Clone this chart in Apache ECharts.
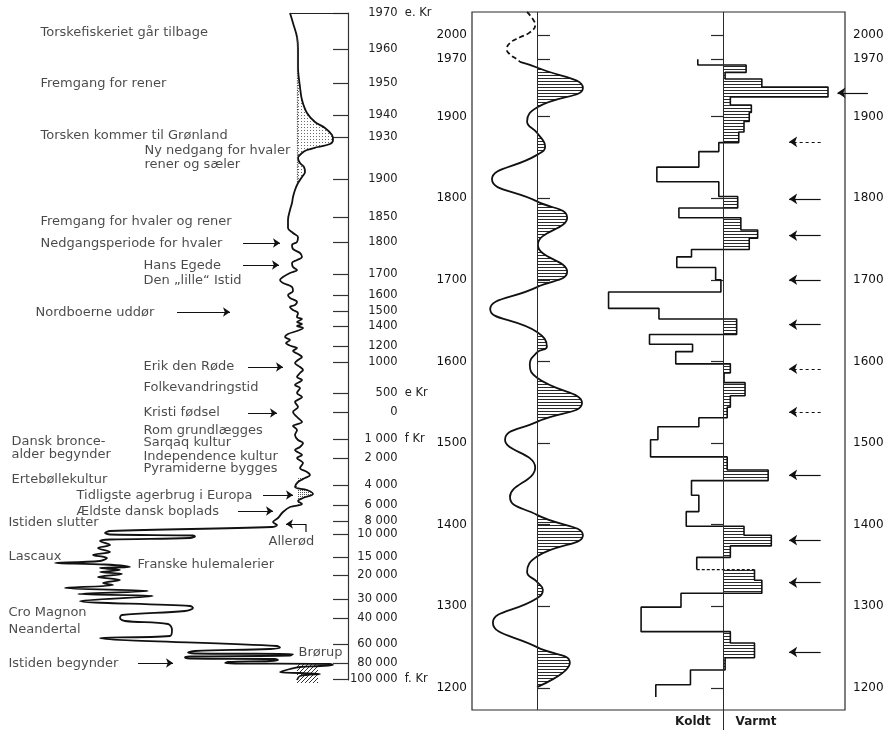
<!DOCTYPE html>
<html><head><meta charset="utf-8">
<script src="https://cdn.jsdelivr.net/npm/echarts@6/dist/echarts.min.js"></script>
<style>html,body{margin:0;padding:0;background:#fff}#c{width:887px;height:732px}</style>
</head><body><div id="c"></div>
<script>
// ================= DATA =================
// Left panel: ice-core curve (delta value, depth units); age labels at depths
const leftTickDepths = [0,54,105,153,186,249,306,343.5,391.5,423,447,469.5,499.5,523.5,570,598.5,639,667.5,708,738,762,781.5,816,843,879,907.5,946.5,975,999];
const leftTickLabels = ['1970 e. Kr','1960','1950','1940','1930','1900','1850','1800','1700','1600','1500','1400','1200','1000','500 e Kr','0','1 000 f Kr','2 000','4 000','6 000','8 000','10 000','15 000','20 000','30 000','40 000','60 000','80 000','100 000 f. Kr'];
const leftCurve = [
 [-28.9,0],[-28.75,15],[-28.55,36],[-28.5,55.5],[-28.5,81],[-28.4,111],[-28.3,130.5],[-28.05,150],[-27.65,163.5],[-27.15,172.5],[-26.8,183],[-26.75,190.5],[-26.9,196.5],[-27.5,201],[-28.05,205.5],[-28.3,210],[-28.5,217.5],[-28.4,225],[-28.2,231],[-28.15,238.5],[-28.3,246],[-28.5,255],[-28.65,265.5],[-28.75,276],[-28.8,285],[-28.9,295.5],[-29.0,310.5],[-29.0,322.5],[-28.75,330],[-28.5,336],[-28.55,343.5],[-28.8,348],[-28.75,354],[-28.4,360],[-28.3,366],[-28.55,370.5],[-28.8,375],[-28.75,381],[-28.55,385.5],[-28.9,390],[-29.25,396],[-29.4,400.5],[-29.25,405],[-28.8,411],[-28.75,417],[-29.0,423],[-28.9,427.5],[-28.55,433.5],[-28.65,438],[-28.9,441],[-28.75,445.5],[-28.5,450],[-28.55,456],[-28.3,459],[-28.55,463.5],[-28.3,466.5],[-28.55,469.5],[-28.25,472.5],[-28.55,477],[-29.0,481.5],[-29.15,486],[-28.9,490.5],[-29.1,495],[-28.85,499.5],[-28.55,502.5],[-28.75,507],[-28.5,511.5],[-28.3,516],[-28.5,520.5],[-28.65,525],[-28.4,531],[-28.25,535.5],[-28.4,540],[-28.55,546],[-28.3,550.5],[-28.65,558],[-28.4,562.5],[-28.55,570],[-28.3,576],[-28.65,583.5],[-28.5,591],[-28.75,598.5],[-28.55,606],[-28.3,613.5],[-28.75,619.5],[-28.55,625.5],[-28.65,633],[-28.5,640.5],[-28.25,645],[-28.4,651],[-28.65,655.5],[-28.3,663],[-28.55,667.5],[-28.25,675],[-28.4,682.5],[-28.05,688.5],[-27.9,693],[-28.15,697.5],[-28.5,703.5],[-28.65,711],[-28.05,715.5],[-27.75,721.5],[-28.25,727.5],[-28.5,732],[-28.3,736.5],[-28.9,741],[-29.25,748.5],[-29.5,757.5],[-29.75,763.5],[-29.55,768],[-29.8,771],[-37.9,777],[-38.15,780],[-37.9,782.25],[-33.75,783.75],[-33.65,785.25],[-33.9,787.5],[-37.9,789.75],[-38.4,792],[-37.9,798],[-38.5,802.5],[-37.9,808.5],[-38.75,813],[-38.05,817.5],[-38.4,822],[-40.65,825],[-38.15,827.25],[-36.9,831],[-38.4,832.5],[-37.4,835.5],[-38.4,838.5],[-37.3,841.5],[-38.5,846],[-37.4,850.5],[-38.25,855],[-37.75,858],[-40.15,862.5],[-36.0,867],[-39.5,871.5],[-35.75,874.5],[-39.4,882],[-33.9,889.5],[-33.75,892.5],[-34.15,897],[-37.3,903],[-37.4,907.5],[-37.15,912],[-35.0,916.5],[-34.8,925.5],[-34.9,934.5],[-38.4,937.5],[-29.55,949.5],[-29.4,951.75],[-29.9,954],[-33.65,957],[-34.0,959.25],[-33.65,960.75],[-28.75,961.5],[-28.9,963.75],[-33.9,965.25],[-34.15,966.75],[-33.9,968.25],[-29.65,969],[-29.5,970.5],[-29.9,972],[-32.0,973.5],[-32.15,975],[-31.65,975.75],[-26.9,976.5],[-26.75,978],[-27.4,979.5],[-28.4,981],[-28.9,984],[-29.4,988.5],[-28.4,990],[-27.4,991.5],[-28.4,994.5],[-28.55,1000.5]
];
// shaded depth ranges [depthFrom, depthTo, baseline delta]
const leftShadeRanges = [[36,255,-28.55],[697.5,738,-28.5]];
const leftHatchBox = [-28.55,-27.5,976.5,1005];
// annotation texts and anchors [delta, depth]
const noteTexts = ['Torskefiskeriet går tilbage','Fremgang for rener','Torsken kommer til Grønland','Ny nedgang for hvaler','rener og sæler','Fremgang for hvaler og rener','Nedgangsperiode for hvaler','Hans Egede','Den „lille“ Istid','Nordboerne uddør','Erik den Røde','Folkevandringstid','Kristi fødsel','Rom grundlægges','Sarqaq kultur','Independence kultur','Pyramiderne bygges','Dansk bronce-','alder begynder','Ertebøllekultur','Tidligste agerbrug i Europa','Ældste dansk boplads','Istiden slutter','Allerød','Lascaux','Franske hulemalerier','Cro Magnon','Neandertal','Brørup','Istiden begynder'];
const noteAnchors = [[-41.4,30],[-41.4,106.5],[-41.4,184.5],[-36.2,207],[-36.2,228],[-41.4,313.5],[-41.4,346.5],[-36.25,379.5],[-36.25,402],[-41.65,450],[-36.25,531],[-36.25,562.5],[-36.25,600],[-36.25,627],[-36.25,645],[-36.25,666],[-36.25,684],[-42.85,643.5],[-42.85,663],[-42.85,700.5],[-39.6,724.5],[-39.6,748.5],[-43.0,765],[-30.0,793.5],[-43.0,816],[-36.55,828],[-43.0,900],[-43.0,925.5],[-28.5,960],[-43.0,976.5]];
// arrows [tailDelta, headDelta, depth]
const leftArrows = [[-31.25,-29.4,345],[-31.25,-29.45,378],[-34.55,-31.9,448.5],[-31.0,-29.25,531],[-31.0,-29.55,600],[-30.25,-28.75,723],[-31.5,-29.75,747],[-36.5,-34.75,975],[-28.1,-29.1,766.5]];
const alleroedBracket = [[-28.1,766.5],[-28.1,778.5]];

// Middle panel: smoothed temperature curve (value, year); first points are the dashed forecast
const midYears  = [2028,2019,2012,2003,1997,1990,1982,1976,1970,1967,1960,1935,1911,1894,1880,1863,1853,1823,1796,1776,1743,1710,1691,1664,1636,1618,1611,1596,1580,1549,1526,1504,1470,1434,1412,1387,1361,1342,1330,1320,1310,1280,1250,1231,1201];
const midValues = [-0.22,-0.09,-0.04,-0.16,-0.38,-0.6,-0.67,-0.6,-0.44,-0.38,0,1.02,0,-0.22,0,0.18,0,-1.0,0,0.67,0.02,0.67,0,-1.04,0,0.22,0,-0.16,0,1.0,0,-0.71,-0.04,-0.6,0,1.02,0,-0.22,0,0.13,0,-0.98,0,0.73,0];
const midDashedEnd = 9;
const yearTicks = [1200,1300,1400,1500,1600,1700,1800,1900,1970,2000];

// Right panel: step histogram (bin edges in years, Koldt<0<Varmt values)
const histEdges = [1970,1963,1954,1946,1936,1924,1914,1905,1894,1881,1868,1857,1838,1820,1802,1788,1776,1761,1751,1737,1728,1715,1700,1685,1665,1652,1633,1621,1612,1597,1586,1574,1558,1544,1531,1520,1504,1483,1467,1454,1436,1416,1398,1387,1374,1360,1345,1332,1316,1299,1269,1255,1237,1222,1204,1189];
const histValues = [-2.4,2.2,0.2,3.7,10.0,0.7,2.7,2.5,2.0,1.5,-0.4,-2.3,-6.3,-0.4,1.4,-4.2,1.7,3.3,2.5,-3.0,-4.4,-0.7,-0.2,-10.9,-6.1,1.3,-7.0,-2.9,-4.5,0.7,0.1,2.1,0.7,0.4,-2.3,-6.2,-6.9,0.4,4.3,-3.0,-2.3,-3.5,2.0,4.6,0.7,-2.5,3.0,3.7,-4.0,-7.8,0.7,3.0,0.2,-3.1,-6.4];
const histDashedAfter = 45;
const arrowYears  = [1929,1869,1799,1754,1700,1645,1591,1538,1461,1381,1329,1244];
const arrowDashed = [0,1,0,0,0,0,1,1,0,0,0,0];

// ================= LAYOUT / STYLE =================
const FONT = 'DejaVu Sans';
const INK = '#1c1c1c';
const arrowHeadV = [10.9,6.3,6.3,6.3,6.3,6.3,6.3,6.3,6.3,6.3,6.3,6.3];
const arrowTailV = [13.8,9.3,9.3,9.3,9.3,9.3,9.3,9.3,9.3,9.3,9.3,9.3];

function makePattern(w,h,draw){const c=document.createElement('canvas');c.width=w;c.height=h;const g=c.getContext('2d');draw(g);return {image:c,repeat:'repeat'};}
const hatchH = makePattern(6,3,g=>{g.fillStyle='#2a2a2a';g.fillRect(0,0,6,1);});
const dots = makePattern(3,3,g=>{g.fillStyle='#6a6a6a';g.fillRect(1,1,1,1);});
const dots2 = makePattern(2,2,g=>{g.fillStyle='#555';g.fillRect(0,0,1,1);});
const hatchD = makePattern(4,4,g=>{g.strokeStyle='#333';g.lineWidth=1;g.beginPath();g.moveTo(0,4);g.lineTo(4,0);g.stroke();});

// replica of the library's smoothing to shape fills identically to the drawn line
function smoothSegs(P, smooth){
  const segs=[null]; let cpx0=P[0][0], cpy0=P[0][1];
  for(let i=1;i<P.length;i++){
    const x=P[i][0], y=P[i][1], px=P[i-1][0], py=P[i-1][1];
    let cpx1, cpy1, nx0=x, ny0=y;
    if(i===P.length-1){cpx1=x;cpy1=y;}
    else{
      const nx=P[i+1][0], ny=P[i+1][1];
      let vx=nx-px, vy=ny-py;
      const dx0=x-px, dy0=y-py, dx1=nx-x, dy1=ny-y;
      const l0=Math.hypot(dx0,dy0), l1=Math.hypot(dx1,dy1);
      const r=l1/(l0+l1);
      nx0=x+vx*smooth*r; ny0=y+vy*smooth*r;
      nx0=Math.min(nx0,Math.max(nx,x)); ny0=Math.min(ny0,Math.max(ny,y));
      nx0=Math.max(nx0,Math.min(nx,x)); ny0=Math.max(ny0,Math.min(ny,y));
      vx=nx0-x; vy=ny0-y;
      cpx1=x-vx*l0/l1; cpy1=y-vy*l0/l1;
      cpx1=Math.min(cpx1,Math.max(px,x)); cpy1=Math.min(cpy1,Math.max(py,y));
      cpx1=Math.max(cpx1,Math.min(px,x)); cpy1=Math.max(cpy1,Math.min(py,y));
      vx=x-cpx1; vy=y-cpy1;
      nx0=x+vx*l1/l0; ny0=y+vy*l1/l0;
    }
    segs.push([cpx0,cpy0,cpx1,cpy1,x,y]);
    cpx0=nx0; cpy0=ny0;
  }
  return segs;
}

const MID_SMOOTH = 0.5;
const midAll = midYears.map((y,i)=>[midValues[i], y]);
const midDashed = midAll.slice(0, midDashedEnd+1);
const midSolid = midAll.slice(midDashedEnd);

function outline(from,to){const d=[];for(let i=from;i<=to;i++){d.push([histValues[i],histEdges[i]]);d.push([histValues[i],histEdges[i+1]]);}return d;}
const warmBins = [];
histValues.forEach((v,i)=>{ if(v>0) warmBins.push([v, histEdges[i], histEdges[i+1]]); });

// numbers right-aligned by padding: in DejaVu Sans a space is exactly half a digit wide
function leftLabel(v){
  let best=0, bd=1e9;
  leftTickDepths.forEach((d,i)=>{const e=Math.abs(d-v); if(e<bd){bd=e;best=i;}});
  const s=leftTickLabels[best];
  const m=s.match(/^([\d ]+?)\s*([A-Za-z].*)?$/);
  const num=m?m[1]:s, suf=m&&m[2]?m[2]:'';
  const units=num.replace(/ /g,'').length*2+(num.split(' ').length-1);
  return ' '.repeat(Math.max(0,13-units))+num+(suf?'  '+suf:'');
}
const yearLabel = v => String(Math.round(v));

const chart = echarts.init(document.getElementById('c'), null, {renderer:'canvas'});
const option = {
  animation:false,
  backgroundColor:'#fff',
  textStyle:{fontFamily:FONT},
  grid:[
    {left:0, top:13, width:348, height:667, show:false},
    {left:472, top:12, width:373, height:698, show:true, borderColor:'#2a2a2a', borderWidth:1.2, backgroundColor:'transparent'}
  ],
  xAxis:[
    {gridIndex:0, type:'value', min:-43.4, max:-26, show:false},
    {gridIndex:1, type:'value', min:-65/45, max:308/45, show:false},
    {gridIndex:1, type:'value', min:-251/10.5, max:122/10.5, position:'bottom',
      axisLine:{show:false}, splitLine:{show:false},
      axisTick:{show:true, customValues:[0], length:20, inside:false, lineStyle:{color:'#2a2a2a', width:1}},
      axisLabel:{customValues:[-2.86,3.14], formatter:v=>v<0?'Koldt':'Varmt', fontWeight:'bold', fontSize:12, color:INK, margin:6, fontFamily:FONT}}
  ],
  yAxis:[
    {gridIndex:0, type:'value', inverse:true, min:0, max:1000.5, position:'right',
      axisLine:{show:true, lineStyle:{color:'#333', width:1.2}},
      axisTick:{show:true, inside:true, length:15, customValues:leftTickDepths, lineStyle:{color:'#333', width:1.2}},
      axisLabel:{customValues:leftTickDepths, margin:2, formatter:leftLabel, color:'#222', fontSize:11.5, fontFamily:FONT},
      splitLine:{show:false}},
    {gridIndex:1, type:'value', min:1173, max:2028, position:'left',
      axisLine:{show:false},
      axisTick:{show:true, inside:true, length:13, customValues:yearTicks, lineStyle:{color:'#2a2a2a', width:1.2}},
      axisLabel:{customValues:yearTicks, formatter:yearLabel, margin:5, fontSize:12, color:'#111', fontFamily:FONT},
      splitLine:{show:false}},
    {gridIndex:1, type:'value', min:1173, max:2028, position:'right',
      axisLine:{show:false},
      axisTick:{show:true, inside:true, length:12, customValues:yearTicks, lineStyle:{color:'#2a2a2a', width:1.2}},
      axisLabel:{customValues:yearTicks, formatter:yearLabel, margin:8, fontSize:12, color:'#111', fontFamily:FONT},
      splitLine:{show:false}}
  ],
  series:[
    // ---- left shading
    {type:'custom', xAxisIndex:0, yAxisIndex:0, z:1, silent:true, data:[[-30,500]],
      renderItem:function(params, api){
        const children=[];
        leftShadeRanges.forEach((r,k)=>{
          const pts=[api.coord([r[2],r[0]])];
          leftCurve.forEach(p=>{ if(p[1]>=r[0] && p[1]<=r[1]) pts.push(api.coord(p)); });
          pts.push(api.coord([r[2],r[1]]));
          children.push({type:'polygon', shape:{points:pts}, style:{fill:k===0?dots:dots2, stroke:null}});
        });
        const a=api.coord([leftHatchBox[0],leftHatchBox[2]]), b=api.coord([leftHatchBox[1],leftHatchBox[3]]);
        children.push({type:'rect', shape:{x:a[0], y:a[1], width:b[0]-a[0], height:b[1]-a[1]}, style:{fill:hatchD, stroke:null}});
        return {type:'group', children};
      }},
    // ---- left curve
    {type:'line', name:'left', xAxisIndex:0, yAxisIndex:0, z:3, data:leftCurve, smooth:0.35, symbol:'none',
      lineStyle:{color:'#111', width:1.8},
      markLine:{silent:true, symbol:['none','none'], label:{show:false}, lineStyle:{color:'#222', width:1.2, type:'solid'},
        data:[
          [{coord:[-28.9,0]},{coord:[-26,0]}],
          [{coord:[-28.55,36], lineStyle:{type:'dotted', width:1.2, color:'#444'}},{coord:[-28.55,255]}]
        ]}},
    // ---- annotations
    {type:'scatter', xAxisIndex:0, yAxisIndex:0, z:4, silent:true, symbolSize:1, itemStyle:{color:'rgba(0,0,0,0)'},
      data:noteTexts.map((t,i)=>({name:t, value:noteAnchors[i]})),
      label:{show:true, position:'right', distance:0, formatter:'{b}', fontSize:13, color:INK, fontFamily:FONT}},
    {type:'lines', coordinateSystem:'cartesian2d', xAxisIndex:0, yAxisIndex:0, z:4, silent:true,
      symbol:['none','arrow'], symbolSize:7, lineStyle:{color:'#111', width:1.2, opacity:1},
      data:leftArrows.map(a=>({coords:[[a[0],a[2]],[a[1],a[2]]]}))},
    {type:'line', xAxisIndex:0, yAxisIndex:0, z:4, data:alleroedBracket, symbol:'none', lineStyle:{color:'#111', width:1.2}},
    // ---- middle panel
    {type:'custom', xAxisIndex:1, yAxisIndex:1, z:1, silent:true, data:[[0,1500]],
      renderItem:function(params, api){
        const pts=midSolid.map(p=>api.coord(p));
        const segs=smoothSegs(pts, MID_SMOOTH);
        const children=[]; let start=-1;
        for(let i=0;i<midSolid.length;i++){
          if(midSolid[i][0]===0){
            if(start>=0 && i-start>1 && midSolid[start+1][0]>0){
              let d='M'+pts[start][0]+' '+pts[start][1];
              for(let k=start+1;k<=i;k++){const s=segs[k]; d+=' C'+s[0]+' '+s[1]+' '+s[2]+' '+s[3]+' '+s[4]+' '+s[5];}
              d+=' Z';
              children.push({type:'path', shape:{pathData:d}, style:{fill:hatchH, stroke:null}});
            }
            start=i;
          }
        }
        return {type:'group', children};
      }},
    {type:'line', xAxisIndex:1, yAxisIndex:1, z:3, data:midDashed, smooth:MID_SMOOTH, symbol:'none',
      lineStyle:{color:'#111', width:1.8, type:[5,3]}},
    {type:'line', xAxisIndex:1, yAxisIndex:1, z:3, data:midSolid, smooth:MID_SMOOTH, symbol:'none',
      lineStyle:{color:'#111', width:1.8},
      markLine:{silent:true, symbol:['none','none'], label:{show:false}, lineStyle:{color:'#2a2a2a', width:1, type:'solid'}, data:[{xAxis:0}]}},
    // ---- right panel histogram
    {type:'custom', xAxisIndex:2, yAxisIndex:1, z:1, silent:true, data:warmBins,
      renderItem:function(params, api){
        const a=api.coord([0, api.value(1)]), b=api.coord([api.value(0), api.value(2)]);
        return {type:'rect', shape:{x:a[0], y:a[1], width:b[0]-a[0], height:b[1]-a[1]}, style:{fill:hatchH, stroke:null}};
      }},
    {type:'line', xAxisIndex:2, yAxisIndex:1, z:3, data:outline(0,histDashedAfter), symbol:'none',
      lineStyle:{color:'#111', width:1.6},
      markLine:{silent:true, symbol:['none','none'], label:{show:false}, lineStyle:{color:'#2a2a2a', width:1, type:'solid'}, data:[{xAxis:0}]}},
    {type:'line', xAxisIndex:2, yAxisIndex:1, z:3, data:outline(histDashedAfter+1,histValues.length-1), symbol:'none',
      lineStyle:{color:'#111', width:1.6}},
    {type:'line', xAxisIndex:2, yAxisIndex:1, z:3, symbol:'none', lineStyle:{color:'#111', width:1.4, type:[3,2]},
      data:[[histValues[histDashedAfter],histEdges[histDashedAfter+1]],[histValues[histDashedAfter+1],histEdges[histDashedAfter+1]]]},
    {type:'lines', coordinateSystem:'cartesian2d', xAxisIndex:2, yAxisIndex:1, z:4, silent:true, clip:false,
      symbol:['none','arrow'], symbolSize:8,
      data:arrowYears.map((y,i)=>({coords:[[arrowTailV[i],y],[arrowHeadV[i],y]],
        lineStyle:{color:'#111', width:1.2, opacity:1, type:arrowDashed[i]?[3,3]:'solid'}}))}
  ]
};
chart.setOption(option);
</script></body></html>
